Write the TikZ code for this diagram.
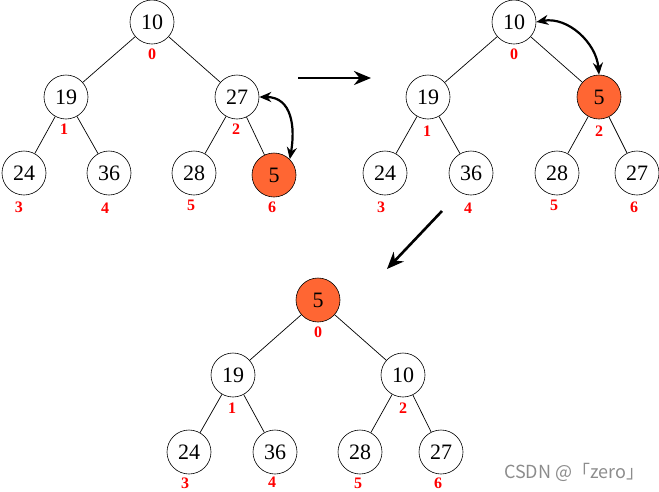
\documentclass[tikz,border=0pt]{standalone}
\usepackage{fontspec}
\setmainfont{Liberation Serif}
\newfontfamily\cjkfont{Noto Sans CJK SC}
\usetikzlibrary{arrows.meta}
\definecolor{swaporange}{HTML}{FF6633}
\tikzstyle{keynode} = [circle, draw=black, line width=0.6pt,
minimum size=44pt,
inner sep=0pt,
font=\fontsize{22}{22}\selectfont]
\tikzstyle{movednode} = [keynode, fill=swaporange]
\tikzstyle{idxnode} = [text=red, inner sep=0pt,
node distance=32pt,
font=\fontsize{16}{16}\selectfont\bfseries]
\tikzstyle{edge} = [line width=0.7pt]
\tikzstyle{swaparrow} = [line width=2.2pt,{Stealth[length=12pt,width=10pt]}-{Stealth[length=12pt,width=10pt]}]
\tikzstyle{steparrow} = [line width=2.6pt,-{Stealth[length=17pt,width=14pt]}]

\begin{document}
\begin{tikzpicture}[x=1pt, y=-1pt, node distance=75pt]
\useasboundingbox (0,0) rectangle (659,491);

% first heap: 5 inserted at the end
\node (a10) [keynode] at (152,22) {10};
\node (a19) [keynode, below of=a10, xshift=-86pt] {19};
\node (a27) [keynode, below of=a10, xshift=85pt] {27};
\node (a24) [keynode, below of=a19, xshift=-42pt, yshift=-1pt] {24};
\node (a36) [keynode, below of=a19, xshift=43pt, yshift=-1pt] {36};
\node (a28) [keynode, below of=a27, xshift=-43pt, yshift=-1pt] {28};
\node (a5) [movednode, below of=a27, xshift=37pt, yshift=-3pt] {5};

\node (ia0) [idxnode, below of=a10] {0};
\node (ia1) [idxnode, below of=a19, xshift=-2pt] {1};
\node (ia2) [idxnode, below of=a27, xshift=-1pt] {2};
\node (ia3) [idxnode, below of=a24, xshift=-5pt, yshift=-2pt] {3};
\node (ia4) [idxnode, below of=a36, xshift=-4pt, yshift=-3pt] {4};
\node (ia5) [idxnode, below of=a28, xshift=-3pt] {5};
\node (ia6) [idxnode, below of=a5, xshift=-2pt] {6};

\draw [edge] (a10) -- (a19);
\draw [edge] (a10) -- (a27);
\draw [edge] (a19) -- (a24);
\draw [edge] (a19) -- (a36);
\draw [edge] (a27) -- (a28);
\draw [edge] (a27) -- (a5);

\draw [swaparrow] (a27.east) to [out=0, in=80, looseness=1.2] (a5.north east);

% second heap: 5 moved up one level
\node (b10) [keynode] at (514,22) {10};
\node (b19) [keynode, below of=b10, xshift=-86pt] {19};
\node (b5) [movednode, below of=b10, xshift=85pt] {5};
\node (b24) [keynode, below of=b19, xshift=-43pt, yshift=-1pt] {24};
\node (b36) [keynode, below of=b19, xshift=43pt, yshift=-1pt] {36};
\node (b28) [keynode, below of=b5, xshift=-42pt, yshift=-1pt] {28};
\node (b27) [keynode, below of=b5, xshift=38pt, yshift=-1pt] {27};

\node (ib0) [idxnode, below of=b10] {0};
\node (ib1) [idxnode, below of=b19, xshift=-1pt, yshift=-2pt] {1};
\node (ib2) [idxnode, below of=b5, yshift=-2pt] {2};
\node (ib3) [idxnode, below of=b24, xshift=-4pt, yshift=-2pt] {3};
\node (ib4) [idxnode, below of=b36, xshift=-3pt, yshift=-3pt] {4};
\node (ib5) [idxnode, below of=b28, xshift=-3pt] {5};
\node (ib6) [idxnode, below of=b27, xshift=-3pt, yshift=-2pt] {6};

\draw [edge] (b10) -- (b19);
\draw [edge] (b10) -- (b5);
\draw [edge] (b19) -- (b24);
\draw [edge] (b19) -- (b36);
\draw [edge] (b5) -- (b28);
\draw [edge] (b5) -- (b27);

\draw [swaparrow] (b10.east) to [out=10, in=95] (b5.north);

% third heap: 5 at the root
\node (c5) [movednode] at (318,300) {5};
\node (c19) [keynode, below of=c5, xshift=-85pt] {19};
\node (c10) [keynode, below of=c5, xshift=85pt] {10};
\node (c24) [keynode, below of=c19, xshift=-44pt, yshift=-2pt] {24};
\node (c36) [keynode, below of=c19, xshift=42pt, yshift=-2pt] {36};
\node (c28) [keynode, below of=c10, xshift=-43pt, yshift=-2pt] {28};
\node (c27) [keynode, below of=c10, xshift=38pt, yshift=-2pt] {27};

\node (ic0) [idxnode, below of=c5] {0};
\node (ic1) [idxnode, below of=c19, xshift=-1pt, yshift=-1pt] {1};
\node (ic2) [idxnode, below of=c10, yshift=-1pt] {2};
\node (ic3) [idxnode, below of=c24, xshift=-4pt, yshift=1pt] {3};
\node (ic4) [idxnode, below of=c36, xshift=-3pt, yshift=2pt] {4};
\node (ic5) [idxnode, below of=c28, xshift=-2pt, yshift=1pt] {5};
\node (ic6) [idxnode, below of=c27, xshift=-3pt, yshift=1pt] {6};

\draw [edge] (c5) -- (c19);
\draw [edge] (c5) -- (c10);
\draw [edge] (c19) -- (c24);
\draw [edge] (c19) -- (c36);
\draw [edge] (c10) -- (c28);
\draw [edge] (c10) -- (c27);

% steps
\coordinate (go1) at (298,78);
\coordinate (to1) at (371,78);
\coordinate (go2) at (442,211);
\coordinate (to2) at (387,269);
\draw [steparrow] (go1) -- (to1);
\draw [steparrow] (go2) -- (to2);

\node (mark) [anchor=east, text=black!45, font=\cjkfont\fontsize{18}{18}\selectfont] at (648,472) {CSDN @「zero」};

\end{tikzpicture}
\end{document}
